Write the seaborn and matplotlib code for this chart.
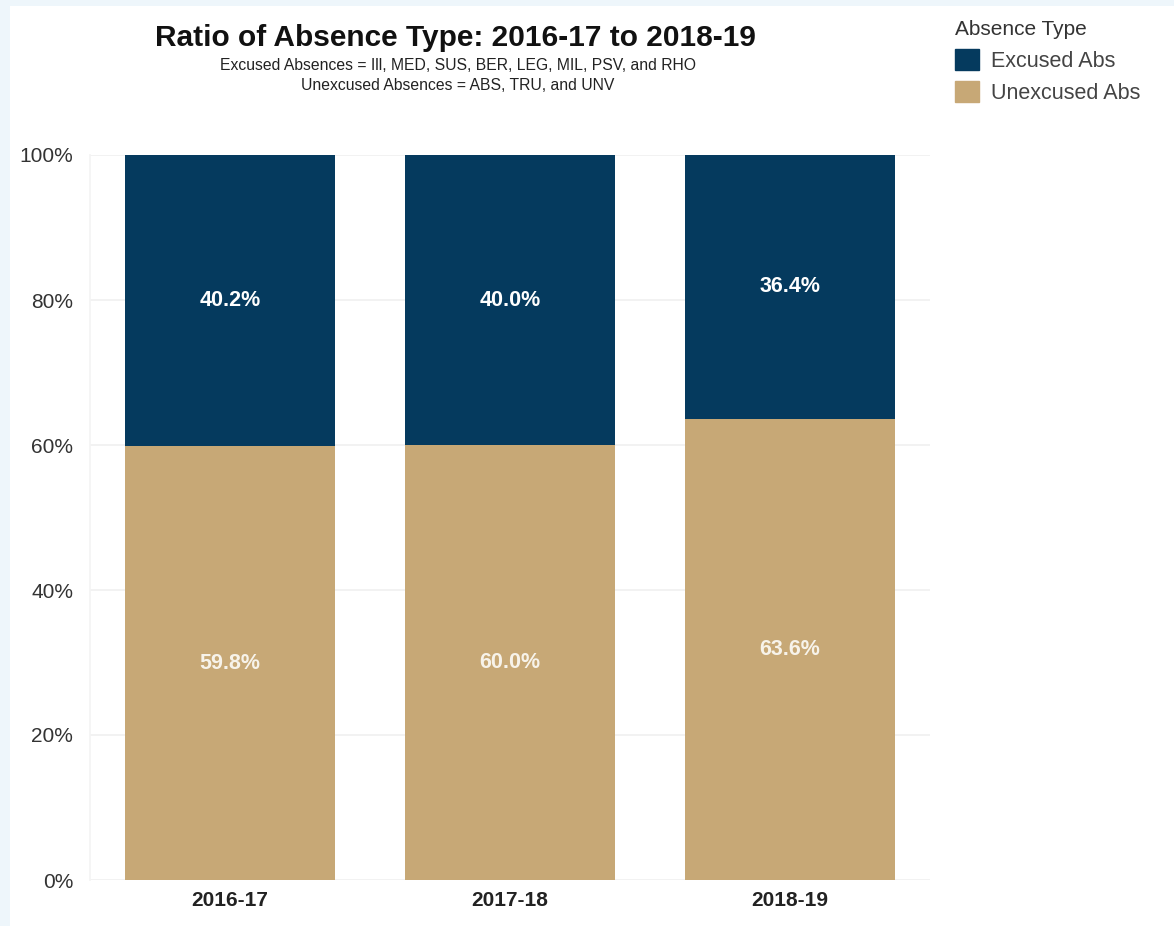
import matplotlib
matplotlib.use("Agg")
import matplotlib.pyplot as plt
import matplotlib.patches as mpatches
import seaborn as sns
import pandas as pd

# School years and the share of each absence type (percent)
years = ["2016-17", "2017-18", "2018-19"]
excused_pct = [40.2, 40.0, 36.4]
unexcused_pct = [59.8, 60.0, 63.6]
y_ticks = [0, 20, 40, 60, 80, 100]

NAVY = "#053A5E"
TAN = "#C7A876"

sns.set_theme(style="white")
plt.rcParams["font.family"] = ["Liberation Sans", "DejaVu Sans"]

df = pd.DataFrame({
    "year": years,
    "excused": [e / 100 for e in excused_pct],
    "unexcused": [u / 100 for u in unexcused_pct],
})
df["total"] = df["excused"] + df["unexcused"]

fig = plt.figure(figsize=(11.74, 9.26), dpi=100)
fig.patch.set_facecolor("white")

# light page frame on the left and top edges
fig.add_artist(mpatches.Rectangle((0, 0), 10 / 1174, 1, transform=fig.transFigure,
                                  facecolor="#EEF6FB", edgecolor="none", zorder=0))
fig.add_artist(mpatches.Rectangle((0, 1 - 6 / 926), 1, 6 / 926, transform=fig.transFigure,
                                  facecolor="#EEF6FB", edgecolor="none", zorder=0))

ax = fig.add_axes([90 / 1174, 1 - 880 / 926, 840 / 1174, 725 / 926])

# stacked bars: full height in navy, unexcused portion drawn over it in tan
sns.barplot(data=df, x="year", y="total", color=NAVY, width=0.75,
            saturation=1, linewidth=0, ax=ax, zorder=2)
sns.barplot(data=df, x="year", y="unexcused", color=TAN, width=0.75,
            saturation=1, linewidth=0, ax=ax, zorder=3)

ax.set_xlim(-0.5, 2.5)
ax.set_ylim(0, 1.0)
ax.set_yticks([t / 100 for t in y_ticks])
ax.set_yticklabels([f"{t}%" for t in y_ticks])
ax.set_xlabel("")
ax.set_ylabel("")
ax.grid(axis="y", color="#F0F0F0", linewidth=1.2, zorder=0)
for side in ["top", "right", "bottom"]:
    ax.spines[side].set_visible(False)
ax.spines["left"].set_color("#F4F4F4")
ax.tick_params(axis="y", length=0, pad=12, labelsize=15, labelcolor="#333333")
ax.tick_params(axis="x", length=0, pad=8, labelsize=15, labelcolor="#222222")
for lbl in ax.get_xticklabels():
    lbl.set_fontweight("bold")

# value labels centred in each segment
for i, (e, u) in enumerate(zip(excused_pct, unexcused_pct)):
    ax.text(i, (u + e / 2) / 100, f"{e:.1f}%", ha="center", va="center",
            color="white", fontsize=15.5, fontweight="bold", zorder=4)
    ax.text(i, (u / 2) / 100, f"{u:.1f}%", ha="center", va="center",
            color="#F7F3EA", fontsize=15.5, fontweight="bold", zorder=4)

# title block
fig.text(455 / 1174, 1 - 38 / 926, "Ratio of Absence Type: 2016-17 to 2018-19",
         ha="center", va="center", fontsize=21.5, fontweight="bold", color="#111111")
fig.text(458 / 1174, 1 - 65 / 926,
         "Excused Absences = Ill, MED, SUS, BER, LEG, MIL, PSV, and RHO",
         ha="center", va="center", fontsize=11.3, color="#222222")
fig.text(458 / 1174, 1 - 85 / 926,
         "Unexcused Absences = ABS, TRU, and UNV",
         ha="center", va="center", fontsize=11.3, color="#222222")

# legend
handles = [mpatches.Patch(color=NAVY, label="Excused Abs"),
           mpatches.Patch(color=TAN, label="Unexcused Abs")]
leg = fig.legend(handles=handles, title="Absence Type", loc="upper left",
                 bbox_to_anchor=(938 / 1174, 1 - 3 / 926), frameon=False,
                 fontsize=15.5, title_fontsize=15, handlelength=1.1,
                 handleheight=1.1, handletextpad=0.55, labelspacing=0.45,
                 alignment="left", borderpad=0.3)
for t in leg.get_texts():
    t.set_color("#444444")
leg.get_title().set_color("#333333")

fig.savefig("out.png", dpi=100, facecolor="white")
